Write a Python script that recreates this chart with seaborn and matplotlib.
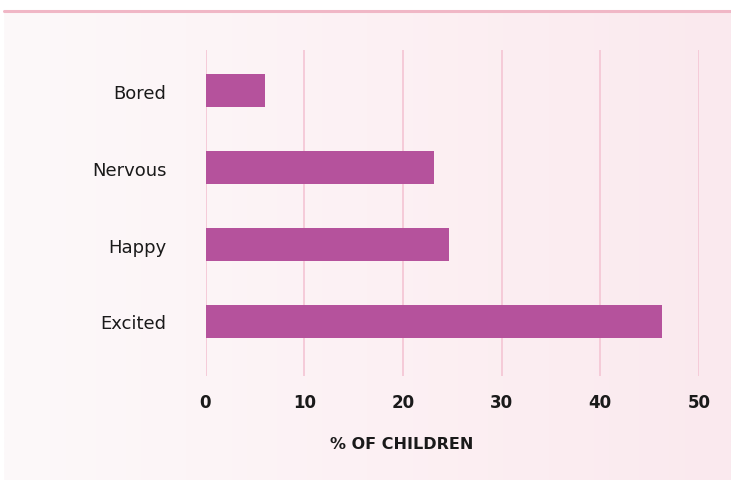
import numpy as np
import pandas as pd
import matplotlib
matplotlib.use("Agg")
import matplotlib.pyplot as plt
from matplotlib.colors import LinearSegmentedColormap
import seaborn as sns

# Survey results: how children feel
feelings = ["Bored", "Nervous", "Happy", "Excited"]
percent_children = [6.0, 23.2, 24.7, 46.3]
x_ticks = [0, 10, 20, 30, 40, 50]
x_title = "% OF CHILDREN"

df = pd.DataFrame({"feeling": feelings, "pct": percent_children})

sns.set_theme(style="white")
plt.rcParams["font.family"] = ["DejaVu Sans"]

W, H = 731, 481
fig = plt.figure(figsize=(W / 100, H / 100), dpi=100)
fig.patch.set_facecolor("white")

# Soft pink gradient panel behind the chart
bg = fig.add_axes([4 / W, 0, 1 - 4 / W, 1 - 12 / H])
grad = np.linspace(0, 1, 256).reshape(1, -1)
cmap = LinearSegmentedColormap.from_list("panel", ["#FCF9FA", "#FDF1F4", "#FAE9EE"])
bg.imshow(grad, aspect="auto", cmap=cmap, extent=[0, 1, 0, 1])
bg.set_axis_off()
fig.add_artist(plt.Line2D([4 / W, 1], [1 - 11.5 / H, 1 - 11.5 / H],
                          color="#F0B7C6", linewidth=2.2, transform=fig.transFigure))

ax = fig.add_axes([205.5 / W, 1 - 377 / H, 493.5 / W, (377 - 51) / H])
ax.set_facecolor("none")
sns.barplot(data=df, y="feeling", x="pct", orient="h", color="#B5529C",
            saturation=1, width=0.43, linewidth=0, ax=ax, zorder=3)

ax.set_xlim(0, 50)
ax.set_ylim(3.71, -0.53)
ax.set_xticks(x_ticks)
ax.set_xticklabels([str(t) for t in x_ticks], fontsize=12, fontweight="bold",
                   color="#1a1a1a")
ax.tick_params(axis="x", length=0, pad=12)
ax.tick_params(axis="y", length=0, pad=28, labelsize=13, labelcolor="#1a1a1a")
ax.xaxis.grid(True, color="#F5C8D6", linewidth=1.3, zorder=0)
ax.yaxis.grid(False)
for s in ax.spines.values():
    s.set_visible(False)
ax.set_xlabel("")
ax.set_ylabel("")

fig.text(402 / W, 1 - 445 / H, x_title, ha="center", va="center",
         fontsize=11.5, fontweight="bold", color="#1a1a1a")

fig.savefig("out.png", dpi=100)
